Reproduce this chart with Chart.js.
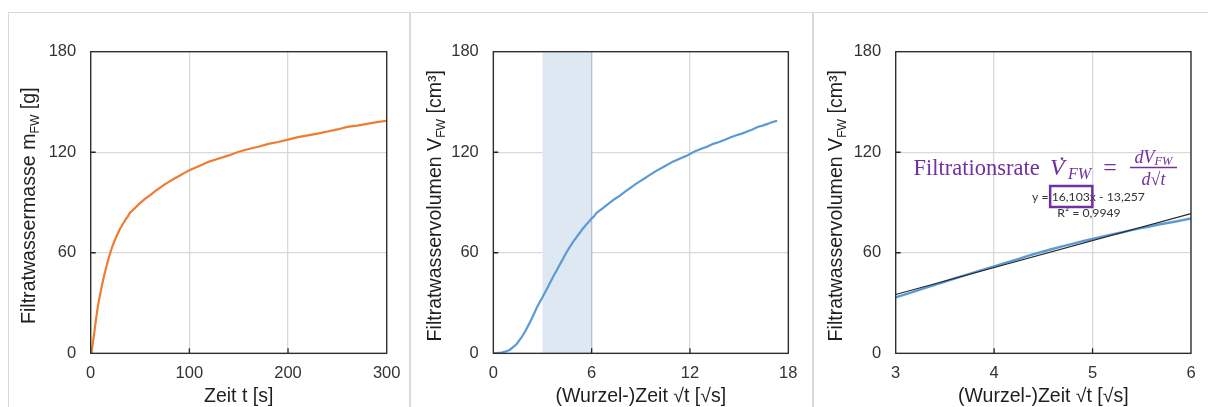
<!DOCTYPE html>
<html>
<head>
<meta charset="utf-8">
<script src="https://cdn.jsdelivr.net/npm/chart.js@4.4.1/dist/chart.umd.min.js"></script>
<style>
  html, body { margin: 0; padding: 0; background: #fff; }
  #page { position: relative; width: 1208px; height: 407px; overflow: hidden; }
  #page canvas { position: absolute; left: 0; top: 0; }
  .rule { position: absolute; background: #d9d9d9; }
</style>
</head>
<body>
<div id="page">
  <div class="rule" style="left:8px;top:11.5px;width:1200px;height:1.5px"></div>
  <div class="rule" style="left:7.5px;top:12px;width:1.5px;height:395px"></div>
  <div class="rule" style="left:408.5px;top:12px;width:2.5px;height:395px"></div>
  <div class="rule" style="left:812px;top:12px;width:2px;height:395px"></div>
  <canvas id="cMasse" width="1208" height="407"></canvas>
  <canvas id="cWurzel" width="1208" height="407"></canvas>
  <canvas id="cFit" width="1208" height="407"></canvas>
</div>
<script>
// Filtration test: filtrate water mass over time (1 g water = 1 cm³)
const zeitS = [
  0, 0.25, 0.5, 1, 2, 3, 4, 5, 6, 7, 8, 9, 10,
  11, 12, 13, 14, 15, 16, 17, 18, 19, 20,
  21, 22, 23, 24, 25, 26, 27, 28, 29, 30,
  31, 32, 33, 34, 35, 36, 37, 38, 39, 40,
  45, 50, 55, 60, 65, 70, 75, 80, 85, 90, 95, 100,
  110, 120, 130, 140, 150, 160, 170, 180, 190, 200,
  210, 220, 230, 240, 250, 260, 270, 280, 290, 300
];
const filtratMasse = [
  0, 0.4, 0.9, 2.0, 5.4, 9.6, 14.0, 18.6, 22.9, 27.0, 30.4, 33.4, 36.4,
  39.3, 42.1, 44.8, 47.3, 49.6, 51.9, 54.1, 56.2, 58.4, 60.3,
  62.1, 63.8, 65.3, 66.9, 68.2, 69.6, 70.9, 72.1, 73.4, 74.6,
  75.5, 76.7, 77.6, 78.5, 79.5, 80.5, 81.1, 82.0, 83.2, 84.0,
  86.8, 89.6, 92.1, 94.3, 96.6, 98.7, 100.8, 102.6, 104.3, 106.0, 107.7, 109.2,
  111.8, 114.4, 116.3, 118.1, 120.3, 121.9, 123.3, 125.0, 126.1, 127.5,
  129.0, 130.1, 131.1, 132.4, 133.6, 135.1, 135.9, 136.9, 138.0, 138.8
];

// tick values of the axes
const zeitTicks = [0, 100, 200, 300];
const wurzelTicks = [0, 6, 12, 18];
const fitTicks = [3, 4, 5, 6];
const mengeTicks = [0, 60, 120, 180];

// √t range used for the linear fit (highlighted in the middle chart)
const fitBereich = [3, 6];

// linear regression over the fit range
const fitSteigung = 16.103;
const fitAchsenabschnitt = -13.257;
const fitBestimmtheit = 0.9949;

const SANS = "'Liberation Sans', Arial, sans-serif";
const SERIF = "'Liberation Serif', 'Times New Roman', serif";
const PURPLE = '#7030A0';
const W = 1208, H = 407;
const Y_AXIS_W = 80;

const deutsch = (v, d) => v.toFixed(d).replace('.', ',');

function richWidth(ctx, parts, size) {
  let w = 0;
  for (const p of parts) {
    ctx.font = (p.sub ? size * 0.62 : size) + 'px ' + SANS;
    w += ctx.measureText(p.t).width;
  }
  return w;
}

// text with subscripts, centred on (cx, baseline); optionally rotated to read upward
function drawRich(ctx, parts, size, cx, cy, rotated) {
  ctx.save();
  ctx.translate(cx, cy);
  if (rotated) ctx.rotate(-Math.PI / 2);
  const w = richWidth(ctx, parts, size);
  let x = -w / 2;
  ctx.textAlign = 'left';
  ctx.textBaseline = 'alphabetic';
  ctx.fillStyle = '#1f1f1f';
  for (const p of parts) {
    const s = p.sub ? size * 0.62 : size;
    ctx.font = s + 'px ' + SANS;
    ctx.fillText(p.t, x, p.sub ? size * 0.2 : 0);
    x += ctx.measureText(p.t).width;
  }
  ctx.restore();
}

function drawFitNote(ctx) {
  ctx.save();
  ctx.fillStyle = PURPLE;
  ctx.textAlign = 'left';
  ctx.textBaseline = 'alphabetic';
  ctx.font = '22.5px ' + SERIF;
  ctx.fillText('Filtrationsrate', 913.5, 174.5);
  ctx.font = 'italic 24px ' + SERIF;
  ctx.fillText('V', 1050, 174.5);
  ctx.textAlign = 'center';
  ctx.font = "24px 'DejaVu Serif', serif";
  ctx.fillText('\u02D9', 1062, 176);
  ctx.textAlign = 'left';
  ctx.font = 'italic 16px ' + SERIF;
  ctx.fillText('FW', 1068, 178.5);
  ctx.textAlign = 'center';
  ctx.font = '24px ' + SERIF;
  ctx.fillText('=', 1110, 175);

  // fraction dV_FW / d√t
  const cx = 1153.5;
  ctx.textAlign = 'left';
  ctx.font = 'italic 18px ' + SERIF;
  const wdv = ctx.measureText('dV').width;
  ctx.font = 'italic 12.5px ' + SERIF;
  const wfw = ctx.measureText('FW').width;
  let x = cx - (wdv + wfw) / 2;
  ctx.font = 'italic 18px ' + SERIF;
  ctx.fillText('dV', x, 162.5);
  ctx.font = 'italic 12.5px ' + SERIF;
  ctx.fillText('FW', x + wdv, 165);

  ctx.strokeStyle = PURPLE;
  ctx.lineWidth = 1.3;
  ctx.beginPath();
  ctx.moveTo(1130, 167.5);
  ctx.lineTo(1177, 167.5);
  ctx.stroke();

  ctx.font = 'italic 18px ' + SERIF;
  const wd = ctx.measureText('d').width, wt = ctx.measureText('t').width;
  ctx.font = '18px ' + SERIF;
  const wr = ctx.measureText('\u221A').width;
  x = cx - (wd + wr + wt) / 2;
  ctx.font = 'italic 18px ' + SERIF;
  ctx.fillText('d', x, 185);
  ctx.font = '18px ' + SERIF;
  ctx.fillText('\u221A', x + wd, 185);
  ctx.font = 'italic 18px ' + SERIF;
  ctx.fillText('t', x + wd + wr, 185);

  // regression equation and coefficient of determination
  const eq = 'y = ' + deutsch(fitSteigung, 3) + 'x - ' + deutsch(-fitAchsenabschnitt, 3);
  const r2 = 'R\u00B2 = ' + deutsch(fitBestimmtheit, 4);
  ctx.font = '13px Lato, ' + SANS;
  const size = 13 * 113 / ctx.measureText(eq).width;
  ctx.font = size + 'px Lato, ' + SANS;
  ctx.fillStyle = '#333333';
  ctx.fillText(eq, 1032, 201);
  const r2w = ctx.measureText(r2).width;
  ctx.fillText(r2, 1089 - r2w / 2, 216.7);

  const pre = ctx.measureText('y = ').width;
  const num = ctx.measureText(deutsch(fitSteigung, 3)).width;
  ctx.strokeStyle = PURPLE;
  ctx.lineWidth = 2.5;
  ctx.strokeRect(1032 + pre - 1.5, 186, num + 4, 21);
  ctx.restore();
}

function panelPlugin(cfg) {
  return {
    id: 'panel' + cfg.name,
    beforeDatasetsDraw(chart) {
      if (!cfg.band) return;
      const ctx = chart.ctx, a = chart.chartArea, sx = chart.scales.x;
      const x0 = sx.getPixelForValue(cfg.band[0]);
      const x1 = sx.getPixelForValue(cfg.band[1]);
      ctx.save();
      ctx.fillStyle = '#dee8f3';
      ctx.fillRect(x0, a.top, x1 - x0, a.bottom - a.top);
      ctx.strokeStyle = '#b7c2ce';
      ctx.lineWidth = 1.2;
      ctx.beginPath();
      ctx.moveTo(x1, a.top);
      ctx.lineTo(x1, a.bottom);
      ctx.stroke();
      ctx.restore();
    },
    afterDatasetsDraw(chart) {
      const ctx = chart.ctx, a = chart.chartArea;
      ctx.save();
      ctx.strokeStyle = '#262626';
      ctx.lineWidth = 1.3;
      ctx.strokeRect(a.left, a.top, a.right - a.left, a.bottom - a.top);
      ctx.beginPath();
      const ys = chart.scales.y, xs = chart.scales.x;
      ys.ticks.forEach(t => {
        if (t.value === ys.min || t.value === ys.max) return;
        const p = ys.getPixelForValue(t.value);
        ctx.moveTo(a.left, p); ctx.lineTo(a.left + 5, p);
      });
      xs.ticks.forEach(t => {
        if (t.value === xs.min || t.value === xs.max) return;
        const p = xs.getPixelForValue(t.value);
        ctx.moveTo(p, a.bottom); ctx.lineTo(p, a.bottom - 5);
      });
      ctx.stroke();
      ctx.restore();
    },
    afterDraw(chart) {
      const ctx = chart.ctx, a = chart.chartArea;
      drawRich(ctx, cfg.yTitle, 19.6, cfg.yTitleX, 205.7, true);
      drawRich(ctx, cfg.xTitle, 19.5, (a.left + a.right) / 2, 401.5, false);
      if (cfg.note) drawFitNote(ctx);
    }
  };
}

function axis(ticks, padding) {
  return {
    type: 'linear',
    min: ticks[0],
    max: ticks[ticks.length - 1],
    afterBuildTicks(scale) { scale.ticks = ticks.map(v => ({ value: v })); },
    grid: { color: '#d9d9d9', lineWidth: 1.3, drawTicks: false },
    border: { display: false },
    ticks: {
      padding: padding,
      color: '#333333',
      font: { family: SANS, size: 16.5 },
      maxRotation: 0,
      autoSkip: false
    }
  };
}

function makeChart(canvasId, area, xTicks, datasets, cfg) {
  const xH = H - area.bottom;
  const xAxis = axis(xTicks, 10.5);
  xAxis.afterFit = s => { s.height = xH; };
  const yAxis = axis(mengeTicks, 14.5);
  yAxis.afterFit = s => { s.width = Y_AXIS_W; };
  return new Chart(document.getElementById(canvasId), {
    type: 'line',
    data: { datasets },
    options: {
      responsive: false,
      animation: false,
      events: [],
      layout: {
        padding: { left: area.left - Y_AXIS_W, right: W - area.right, top: area.top, bottom: 0 }
      },
      scales: { x: xAxis, y: yAxis },
      plugins: { legend: { display: false }, tooltip: { enabled: false } },
      elements: { point: { radius: 0 }, line: { tension: 0 } }
    },
    plugins: [panelPlugin(cfg)]
  });
}

const massePunkte = zeitS.map((t, i) => ({ x: t, y: filtratMasse[i] }));
const wurzelPunkte = zeitS.map((t, i) => ({ x: Math.sqrt(t), y: filtratMasse[i] }));
const fitLinie = fitBereich.map(x => ({ x, y: fitSteigung * x + fitAchsenabschnitt }));

const volumenTitel = [{ t: 'Filtratwasservolumen V' }, { t: 'FW', sub: true }, { t: ' [cm\u00B3]' }];
const wurzelTitel = [{ t: '(Wurzel-)Zeit \u221At [\u221As]' }];

makeChart('cMasse', { left: 90.7, right: 386.7, top: 51.7, bottom: 353.3 }, zeitTicks, [
  { data: massePunkte, borderColor: '#ED7D31', borderWidth: 2.2, fill: false }
], {
  name: 'Masse',
  yTitle: [{ t: 'Filtratwassermasse m' }, { t: 'FW', sub: true }, { t: ' [g]' }],
  yTitleX: 35,
  xTitle: [{ t: 'Zeit t [s]' }]
});

makeChart('cWurzel', { left: 493.3, right: 788.3, top: 51.7, bottom: 353.3 }, wurzelTicks, [
  { data: wurzelPunkte, borderColor: '#5B9BD5', borderWidth: 2.2, fill: false }
], {
  name: 'Wurzel',
  band: fitBereich,
  yTitle: volumenTitel,
  yTitleX: 440.7,
  xTitle: wurzelTitel
});

makeChart('cFit', { left: 895.7, right: 1191, top: 51.7, bottom: 353.3 }, fitTicks, [
  { data: fitLinie, borderColor: '#262626', borderWidth: 1.1, fill: false },
  { data: wurzelPunkte, borderColor: '#5B9BD5', borderWidth: 2.4, fill: false }
], {
  name: 'Fit',
  yTitle: volumenTitel,
  yTitleX: 842.3,
  xTitle: wurzelTitel,
  note: true
});
</script>
</body>
</html>
